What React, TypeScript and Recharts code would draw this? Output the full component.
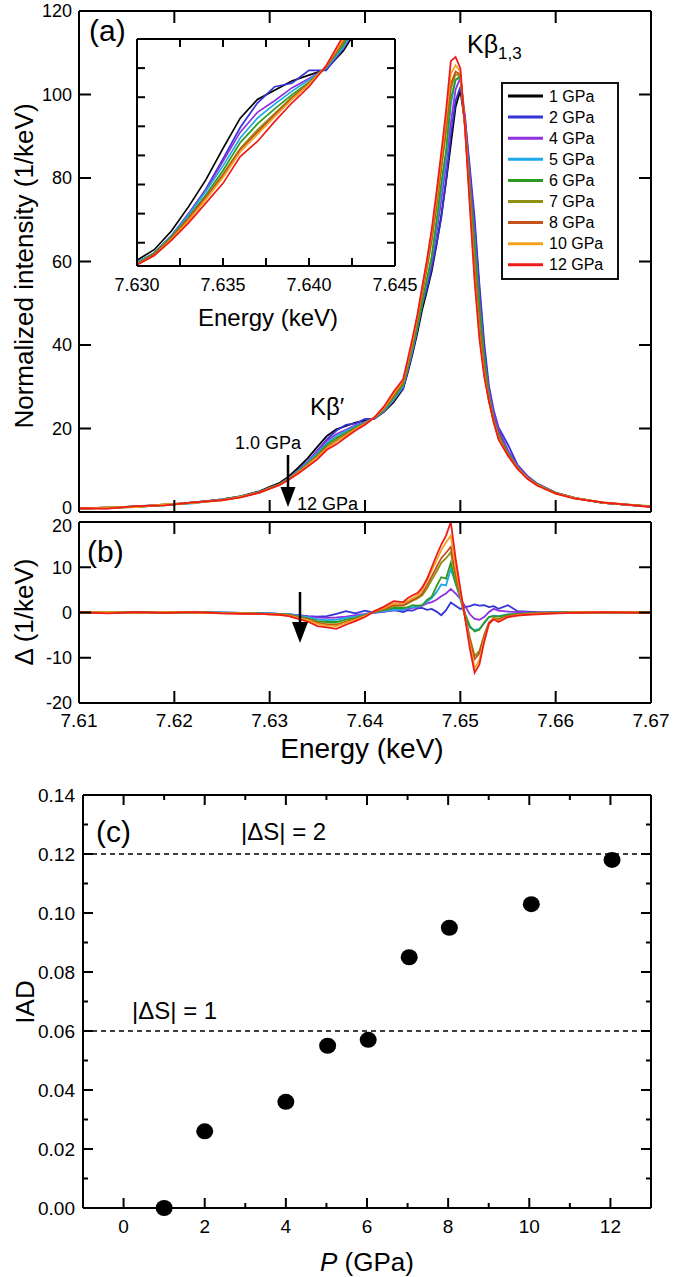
import React from 'react';
import { LineChart, Line, XAxis, YAxis, Legend, ScatterChart, Scatter, ReferenceLine } from 'recharts';

const FONT = '"Liberation Sans", Arial, Helvetica, sans-serif';

// energy grid (keV)
const energy = [
  7.610, 7.613, 7.616, 7.619, 7.622, 7.625, 7.627,
  7.629, 7.630, 7.631, 7.632, 7.633, 7.634, 7.635, 7.636, 7.637, 7.638, 7.639, 7.640, 7.641, 7.642, 7.643,
  7.6440, 7.6445, 7.6450, 7.6455, 7.6460, 7.6465, 7.6470, 7.6475, 7.6480, 7.6485, 7.6490, 7.6495, 7.6500,
  7.6505, 7.6510, 7.6515, 7.6520, 7.6525, 7.6530, 7.6535, 7.6540,
  7.655, 7.656, 7.657, 7.658, 7.660, 7.662, 7.665, 7.670,
];

// 1 GPa spectrum, normalized intensity (1/keV)
const spec1GPa = [
  0.8, 1.0, 1.3, 1.7, 2.2, 3.0, 3.8,
  5.0, 6.0, 6.9, 8.5, 10.6, 12.9, 15.6, 18.2, 19.8, 20.6, 21.4, 21.9, 22.4, 24.0, 26.3,
  29.5, 33.5, 38.0, 43.0, 48.5, 53.0, 57.7, 64.0, 71.0, 79.0, 88.0, 97.0, 101.0,
  93.0, 81.0, 68.5, 53.0, 39.0, 29.0, 23.0, 19.5,
  14.5, 11.0, 8.5, 6.8, 4.6, 3.3, 2.2, 1.3,
];

// difference spectra against 1 GPa, panel (b)
const diff2GPa = [
  0, 0.1, -0.1, 0, 0.1, 0, -0.1,
  -0.2, -0.2, -0.3, -0.4, -0.6, -0.8, -0.9, -0.8, -0.3, 0.3, -0.2, 0.4, -0.1, 0.2, 0.6,
  0.1, 0.5, 0.4, 0.9, 1.0, 0.6, 0.8, 0.2, -0.6, 0.5, 2.2, 1.5, 0.8,
  1.2, 1.4, 1.8, 1.5, 1.6, 1.2, 1.4, 0.8,
  1.6, 0.3, 0.2, 0.1, 0, 0.1, 0, 0,
];
const diff4GPa = [
  0.1, 0, 0, 0.1, 0, -0.1, -0.1,
  -0.1, -0.2, -0.3, -0.4, -0.6, -0.9, -1.1, -1.2, -1.1, -0.9, -0.6, -0.3, 0.1, 0.2, 0.4,
  0.6, 0.8, 1.0, 1.1, 1.5, 2.0, 2.3, 2.8, 3.6, 4.2, 5.2, 4.2, 3.0,
  1.4, -0.4, -1.4, -1.6, -1.0, 0.1, 0.8, 0.4,
  0.2, 0.1, 0.1, 0, 0, 0.1, 0, 0,
];
const diff5GPa = [
  0, 0, 0.1, 0, -0.1, 0, -0.1,
  -0.2, -0.2, -0.3, -0.4, -0.7, -1.0, -1.5, -1.7, -1.6, -1.2, -0.9, -0.4, 0.1, 0.3, 0.6,
  0.6, 1.0, 1.2, 1.3, 1.6, 2.4, 3.2, 4.5, 6.2, 6.0, 9.6, 6.5, 3.0,
  -0.8, -3.4, -3.9, -3.6, -2.4, -1.0, -0.7, -0.8,
  -0.4, -0.3, -0.2, -0.1, 0, 0.1, 0, 0,
];
const diff6GPa = [
  0, 0.1, 0, -0.1, 0.1, -0.1, -0.1,
  -0.2, -0.3, -0.3, -0.5, -0.9, -1.3, -1.9, -2.1, -2.1, -1.6, -1.2, -0.6, 0.2, 0.5, 1.0,
  1.0, 1.2, 1.6, 1.5, 1.6, 2.8, 3.5, 5.8, 7.8, 7.5, 11.0, 6.5, 3.5,
  -0.3, -3.0, -4.2, -3.8, -2.2, -1.0, -0.8, -0.9,
  -0.5, -0.3, -0.2, -0.1, 0, 0, 0, 0.1,
];
const diff7GPa = [
  0.1, 0, -0.1, 0.1, 0, -0.1, -0.2,
  -0.3, -0.3, -0.4, -0.6, -1.0, -1.5, -2.2, -2.6, -2.6, -2.0, -1.4, -0.7, 0.2, 0.7, 1.4,
  1.5, 2.0, 2.6, 3.1, 3.8, 5.3, 7.2, 9.0, 11.0, 12.0, 13.3, 7.8, 3.5,
  -0.9, -5.5, -9.6, -8.5, -5.0, -2.2, -1.2, -1.4,
  -0.8, -0.5, -0.3, -0.2, -0.1, 0.1, 0, 0,
];
const diff8GPa = [
  0, -0.1, 0.1, 0, 0.1, -0.1, -0.2,
  -0.3, -0.4, -0.4, -0.6, -1.0, -1.5, -2.3, -2.7, -2.8, -2.1, -1.5, -0.7, 0.2, 0.8, 1.6,
  1.6, 2.2, 2.8, 3.3, 4.2, 6.0, 8.0, 10.0, 12.0, 13.2, 14.5, 8.5, 3.8,
  -1.0, -6.0, -10.3, -9.0, -5.2, -2.3, -1.3, -1.5,
  -0.8, -0.5, -0.3, -0.2, -0.1, 0, 0, 0,
];
const diff10GPa = [
  0, 0.1, -0.1, 0.1, 0, -0.2, -0.2,
  -0.3, -0.4, -0.5, -0.7, -1.2, -1.7, -2.5, -2.9, -3.0, -2.3, -1.6, -0.8, 0.3, 1.0, 2.0,
  2.0, 2.6, 3.2, 3.8, 5.0, 7.0, 9.3, 11.5, 13.8, 15.5, 17.0, 10.0, 4.5,
  -1.2, -7.0, -12.3, -10.5, -6.0, -2.5, -1.4, -1.8,
  -1.0, -0.6, -0.4, -0.3, -0.2, 0, 0.1, 0,
];
const diff12GPa = [
  0.1, -0.2, 0.1, -0.1, 0.1, -0.2, -0.3,
  -0.3, -0.4, -0.5, -0.8, -1.4, -2.0, -3.0, -3.3, -3.6, -2.7, -1.9, -1.0, 0.3, 1.3, 2.5,
  2.3, 3.2, 3.8, 4.3, 5.5, 7.4, 10.0, 12.6, 15.0, 17.0, 20.0, 12.0, 5.3,
  -1.3, -8.0, -13.3, -11.5, -6.5, -2.5, -1.5, -2.1,
  -1.0, -0.7, -0.5, -0.4, -0.2, -0.1, 0.1, -0.1,
];

const pressureNames = ['1 GPa', '2 GPa', '4 GPa', '5 GPa', '6 GPa', '7 GPa', '8 GPa', '10 GPa', '12 GPa'];
const lineColors = ['#000000', '#3333d6', '#9131e0', '#1fa8e8', '#2e9a22', '#8e9110', '#c5511c', '#f5a31e', '#ee1b1b'];

// panel (c)
const iadPressure = [1.0, 2.0, 4.0, 5.03, 6.03, 7.04, 8.03, 10.05, 12.04];
const iadValue = [0.0, 0.026, 0.036, 0.055, 0.057, 0.085, 0.095, 0.103, 0.118];

const energyTicks = [7.61, 7.62, 7.63, 7.64, 7.65, 7.66, 7.67];
const energyInner = [7.62, 7.63, 7.64, 7.65, 7.66];
const intensityTicks = [0, 20, 40, 60, 80, 100, 120];
const deltaTicks = [-20, -10, 0, 10, 20];
const insetEnergyTicks = [7.63, 7.6325, 7.635, 7.6375, 7.64, 7.6425, 7.645];
const insetEnergyLabels = ['7.630', '', '7.635', '', '7.640', '', '7.645'];
const insetIntensityTicks = [7.5, 10, 12.5, 15, 17.5, 20, 22.5];
const iadTicks = [0, 0.01, 0.02, 0.03, 0.04, 0.05, 0.06, 0.07, 0.08, 0.09, 0.1, 0.11, 0.12, 0.13, 0.14];
const pressureTicks = [0, 1, 2, 3, 4, 5, 6, 7, 8, 9, 10, 11, 12];

const diffs = [null, diff2GPa, diff4GPa, diff5GPa, diff6GPa, diff7GPa, diff8GPa, diff10GPa, diff12GPa];
const keys = pressureNames.map((_, i) => 's' + i);

const spectrumRows = energy.map((e, i) => {
  const row: Record<string, number> = { e };
  keys.forEach((k, j) => {
    const d = diffs[j];
    row[k] = d ? Math.round((spec1GPa[i] + d[i]) * 100) / 100 : spec1GPa[i];
  });
  return row;
});

const diffRows = energy.map((e, i) => {
  const row: Record<string, number> = { e };
  keys.forEach((k, j) => {
    const d = diffs[j];
    if (d) row[k] = d[i];
  });
  return row;
});

const iadRows = iadPressure.map((p, i) => ({ p, iad: iadValue[i] }));

type Side = 'left' | 'right' | 'top' | 'bottom';
interface TickOpts {
  side: Side;
  len: number;
  minorLen?: number;
  major?: (v: number) => boolean;
  label?: (v: number, i: number) => string;
  shift?: (v: number) => number;
  fontSize?: number;
  gap?: number;
}

// inward ticks; axes get tickSize=0 / tickMargin=0 so x,y sits on the axis line
const tickMaker = (o: TickOpts) => (props: any) => {
  const { x, y, payload, index } = props;
  const v = payload.value as number;
  const isMajor = o.major ? o.major(v) : true;
  const len = isMajor ? o.len : o.minorLen ?? o.len;
  const fs = o.fontSize ?? 19;
  const gap = o.gap ?? 7;
  const txt = isMajor && o.label ? o.label(v, index) : '';
  const sh = o.shift ? o.shift(v) : 0;
  let line: React.ReactNode = null;
  let text: React.ReactNode = null;
  if (o.side === 'left') {
    line = <line x1={x} x2={x + len} y1={y} y2={y} />;
    if (txt) text = <text x={x - gap} y={y + sh} dy="0.35em" textAnchor="end">{txt}</text>;
  } else if (o.side === 'right') {
    line = <line x1={x} x2={x - len} y1={y} y2={y} />;
  } else if (o.side === 'bottom') {
    line = <line x1={x} x2={x} y1={y} y2={y - len} />;
    if (txt) text = <text x={x} y={y + gap} dy="0.72em" textAnchor="middle">{txt}</text>;
  } else {
    line = <line x1={x} x2={x} y1={y} y2={y + len} />;
  }
  return (
    <g>
      <g stroke="#000" strokeWidth={2}>{line}</g>
      {text && <g fill="#000" stroke="none" fontSize={fs} fontFamily={FONT}>{text}</g>}
    </g>
  );
};

const frame = { stroke: '#000', strokeWidth: 2 };
const axisBase = { tickSize: 0, tickMargin: 0, tickLine: false, axisLine: frame, interval: 0 as const, type: 'number' as const };

const LegendBox = () => (
  <svg width={118} height={198} style={{ display: 'block' }}>
    <rect x={1} y={1} width={116} height={196} fill="#fff" stroke="#111" strokeWidth={2} />
    {pressureNames.map((p, i) => (
      <g key={p}>
        <line x1={7} x2={42} y1={14 + i * 21.1} y2={14 + i * 21.1} stroke={lineColors[i]} strokeWidth={3} />
        <text x={48} y={14 + i * 21.1} dy="0.35em" fontSize={16} fontFamily={FONT} fill="#000">{p}</text>
      </g>
    ))}
  </svg>
);

const App: React.FC = () => {
  return (
    <div style={{ position: 'absolute', left: 0, top: 0, width: 675, height: 1277, background: '#fff', fontFamily: FONT }}>
      {/* (a) spectra */}
      <div style={{ position: 'absolute', left: 0, top: 0 }}>
        <LineChart width={675} height={520} data={spectrumRows} margin={{ top: 10, right: 23, bottom: 7, left: 0 }}>
          <XAxis {...axisBase} dataKey="e" domain={[7.61, 7.67]} ticks={energyInner} height={1}
            tick={tickMaker({ side: 'bottom', len: 12 })} />
          <XAxis {...axisBase} xAxisId="t" orientation="top" dataKey="e" domain={[7.61, 7.67]} allowDataOverflow
            ticks={energyInner} height={1} tick={tickMaker({ side: 'top', len: 12 })} />
          <YAxis {...axisBase} domain={[0, 120]} ticks={intensityTicks} width={79}
            tick={tickMaker({ side: 'left', len: 12, fontSize: 18, label: (v) => String(v), shift: (v) => (v === 0 ? -4 : 0) })} />
          <YAxis {...axisBase} yAxisId="r" orientation="right" domain={[0, 120]} allowDataOverflow
            ticks={[20, 40, 60, 80, 100]} width={1} tick={tickMaker({ side: 'right', len: 12 })} />
          {keys.map((k, i) => (
            <Line key={k} type="linear" dataKey={k} stroke={lineColors[i]} strokeWidth={1.8}
              dot={false} activeDot={false} isAnimationActive={false} />
          ))}
          <Legend layout="horizontal" verticalAlign="middle" align="center"
            wrapperStyle={{ position: 'absolute', left: 501, top: 82, width: 118, height: 198, margin: 0 }}
            content={() => <LegendBox />} />
        </LineChart>
      </div>

      {/* inset */}
      <div style={{ position: 'absolute', left: 110, top: 30 }}>
        <LineChart width={310} height={300} data={spectrumRows} margin={{ top: 8, right: 24, bottom: 4, left: 0 }}>
          <XAxis {...axisBase} dataKey="e" domain={[7.63, 7.645]} allowDataOverflow ticks={insetEnergyTicks} height={60}
            tick={tickMaker({ side: 'bottom', len: 8, fontSize: 18, gap: 12, label: (_v, i) => insetEnergyLabels[i] ?? '' })} />
          <XAxis {...axisBase} xAxisId="t" orientation="top" dataKey="e" domain={[7.63, 7.645]} allowDataOverflow
            ticks={insetEnergyTicks} height={1} tick={tickMaker({ side: 'top', len: 8 })} />
          <YAxis {...axisBase} domain={[5.5, 25]} allowDataOverflow ticks={insetIntensityTicks} width={27}
            tick={tickMaker({ side: 'left', len: 8 })} />
          <YAxis {...axisBase} yAxisId="r" orientation="right" domain={[5.5, 25]} allowDataOverflow
            ticks={insetIntensityTicks} width={1} tick={tickMaker({ side: 'right', len: 8 })} />
          {keys.map((k, i) => (
            <Line key={k} type="linear" dataKey={k} stroke={lineColors[i]} strokeWidth={1.7}
              dot={false} activeDot={false} isAnimationActive={false} />
          ))}
        </LineChart>
      </div>

      {/* (b) differences */}
      <div style={{ position: 'absolute', left: 0, top: 512 }}>
        <LineChart width={675} height={275} data={diffRows} margin={{ top: 9, right: 23, bottom: 44, left: 0 }}>
          <XAxis {...axisBase} dataKey="e" domain={[7.61, 7.67]} ticks={energyTicks} height={40}
            tick={tickMaker({ side: 'bottom', len: 12, gap: 10, label: (v) => v.toFixed(2) })} />
          <XAxis {...axisBase} xAxisId="t" orientation="top" dataKey="e" domain={[7.61, 7.67]} allowDataOverflow
            ticks={energyInner} height={1} tick={tickMaker({ side: 'top', len: 12 })} />
          <YAxis {...axisBase} domain={[-20, 20]} ticks={deltaTicks} width={79}
            tick={tickMaker({ side: 'left', len: 12, fontSize: 18, label: (v) => String(v), shift: (v) => (v === 20 ? 4 : 0) })} />
          <YAxis {...axisBase} yAxisId="r" orientation="right" domain={[-20, 20]} allowDataOverflow
            ticks={[-10, 0, 10]} width={1} tick={tickMaker({ side: 'right', len: 12 })} />
          {keys.slice(1).map((k, i) => (
            <Line key={k} type="linear" dataKey={k} stroke={lineColors[i + 1]} strokeWidth={1.8}
              dot={false} activeDot={false} isAnimationActive={false} />
          ))}
        </LineChart>
      </div>

      {/* (c) IAD */}
      <div style={{ position: 'absolute', left: 0, top: 780 }}>
        <ScatterChart width={675} height={497} margin={{ top: 14, right: 23, bottom: 29, left: 0 }}>
          <XAxis {...axisBase} dataKey="p" domain={[-1, 13]} ticks={pressureTicks} height={40}
            tick={tickMaker({ side: 'bottom', len: 10, minorLen: 5, gap: 11, major: (v) => v % 2 === 0, label: (v) => String(v) })} />
          <XAxis {...axisBase} xAxisId="t" orientation="top" dataKey="p" domain={[-1, 13]} allowDataOverflow
            ticks={pressureTicks} height={1} tick={tickMaker({ side: 'top', len: 10, minorLen: 5, major: (v) => v % 2 === 0 })} />
          <YAxis {...axisBase} dataKey="iad" domain={[0, 0.14]} ticks={iadTicks} width={83}
            tick={tickMaker({ side: 'left', len: 10, minorLen: 5, gap: 8, major: (v) => Math.round(v * 100) % 2 === 0, label: (v) => v.toFixed(2) })} />
          <YAxis {...axisBase} yAxisId="r" orientation="right" dataKey="iad" domain={[0, 0.14]} allowDataOverflow
            ticks={iadTicks} width={1} tick={tickMaker({ side: 'right', len: 10, minorLen: 5, major: (v) => Math.round(v * 100) % 2 === 0 })} />
          <ReferenceLine y={0.12} stroke="#000" strokeWidth={1.5} strokeDasharray="5 4" />
          <ReferenceLine y={0.06} stroke="#000" strokeWidth={1.5} strokeDasharray="5 4" />
          <Scatter data={iadRows} fill="#000" isAnimationActive={false}
            shape={(p: any) => <ellipse cx={p.cx} cy={p.cy} rx={8.5} ry={8} fill="#000" />} />
        </ScatterChart>
      </div>

      {/* titles and annotations */}
      <svg width={675} height={1277} style={{ position: 'absolute', left: 0, top: 0, pointerEvents: 'none' }}
        fontFamily={FONT} fill="#000">
        <text transform="translate(24,266) rotate(-90)" textAnchor="middle" dy="0.35em" fontSize={26}>Normalized intensity (1/keV)</text>
        <text transform="translate(24,612) rotate(-90)" textAnchor="middle" dy="0.35em" fontSize={26}>Δ (1/keV)</text>
        <text transform="translate(25,1002) rotate(-90)" textAnchor="middle" dy="0.35em" fontSize={26}>IAD</text>
        <text x={362} y={758} textAnchor="middle" fontSize={28}>Energy (keV)</text>
        <text x={268} y={326} textAnchor="middle" fontSize={24}>Energy (keV)</text>
        <text x={367} y={1271} textAnchor="middle" fontSize={26}><tspan fontStyle="italic">P</tspan> (GPa)</text>

        <text x={89} y={41} fontSize={30}>(a)</text>
        <text x={87} y={562} fontSize={30}>(b)</text>
        <text x={96} y={842} fontSize={30}>(c)</text>

        <text x={467} y={53} fontSize={25}>Kβ<tspan fontSize={17} dy={6}>1,3</tspan></text>
        <text x={310} y={415} fontSize={24}>Kβ′</text>
        <text x={235} y={449} fontSize={18}>1.0 GPa</text>
        <text x={297} y={510} fontSize={18}>12 GPa</text>
        <line x1={288} y1={455} x2={288} y2={490} stroke="#000" strokeWidth={2.5} />
        <polygon points="280.5,487 295.5,487 288,507" fill="#000" />
        <line x1={300} y1={592} x2={300} y2={625} stroke="#000" strokeWidth={2.5} />
        <polygon points="292,622 308,622 300,643" fill="#000" />

        <text x={241} y={840} fontSize={24}>|ΔS| = 2</text>
        <text x={132} y={1019} fontSize={24}>|ΔS| = 1</text>
      </svg>
    </div>
  );
};

export default App;
